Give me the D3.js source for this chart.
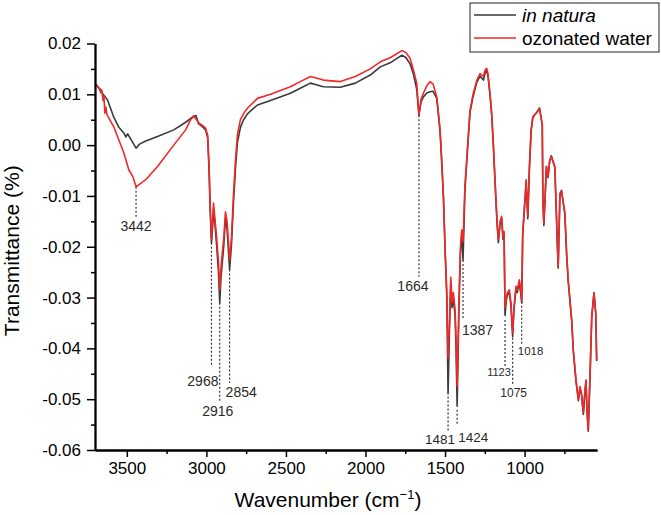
<!DOCTYPE html>
<html><head><meta charset="utf-8">
<script src="https://cdn.jsdelivr.net/npm/d3@7"></script>
<style>body{margin:0;background:#fff}svg{display:block}text{font-family:"Liberation Sans",Arial,sans-serif}</style>
</head><body><svg id="c" width="661" height="515"></svg>
<script>
// ---------- data ----------
const seriesNames = ["in natura", "ozonated water"];
const xTicks = [3500, 3000, 2500, 2000, 1500, 1000];
const xMinorTicks = [3250, 2750, 2250, 1750, 1250, 750];
const yTicks = [0.02, 0.01, 0.00, -0.01, -0.02, -0.03, -0.04, -0.05, -0.06];
const yMinorTicks = [0.015, 0.005, -0.005, -0.015, -0.025, -0.035, -0.045, -0.055];

const wnNatura = [3694,3676,3663,3650,3638,3620,3582,3550,3519,3505,3495,3475,3442,3420,3381,3307,3205,3130,3080,3065,3049,3030,3005,2992,2983,2976,2968,2961,2955,2945,2936,2924,2916,2908,2890,2880,2870,2854,2842,2830,2817,2805,2786,2766,2741,2679,2597,2472,2410,2346,2309,2265,2158,2064,1970,1907,1845,1771,1745,1720,1699,1678,1664,1651,1636,1613,1594,1575,1552,1531,1520,1510,1500,1489,1481,1472,1464,1456,1448,1437,1431,1424,1412,1403,1395,1387,1375,1362,1343,1324,1300,1280,1259,1248,1238,1230,1217,1207,1196,1186,1173,1165,1154,1144,1136,1129,1123,1115,1108,1096,1086,1075,1067,1054,1046,1033,1027,1018,1012,1001,990,980,969,959,948,927,906,889,885,879,871,863,853,842,832,810,799,789,778,768,747,736,726,704,694,677,662,652,642,631,620,614,608,600,589,578,564,553,547];
const tNatura = [0.0120,0.0112,0.0109,0.0100,0.0096,0.0088,0.0055,0.0035,0.0024,0.0016,0.0022,0.0012,-0.0006,0.0002,0.0008,0.0017,0.0030,0.0045,0.0057,0.0058,0.0042,0.0038,0.0030,0.0015,-0.0050,-0.0130,-0.0193,-0.0160,-0.0126,-0.0160,-0.0195,-0.0250,-0.0311,-0.0260,-0.0195,-0.0143,-0.0165,-0.0245,-0.0195,-0.0115,-0.0045,0.0005,0.0035,0.0050,0.0062,0.0079,0.0088,0.0102,0.0112,0.0122,0.0119,0.0115,0.0114,0.0122,0.0138,0.0154,0.0162,0.0177,0.0172,0.0160,0.0140,0.0110,0.0058,0.0085,0.0095,0.0103,0.0105,0.0106,0.0092,0.0025,-0.0040,-0.0105,-0.0205,-0.0300,-0.0488,-0.0360,-0.0270,-0.0320,-0.0300,-0.0335,-0.0400,-0.0514,-0.0310,-0.0210,-0.0175,-0.0226,-0.0090,-0.0025,0.0065,0.0095,0.0124,0.0136,0.0128,0.0142,0.0147,0.0136,0.0097,0.0060,-0.0003,-0.0072,-0.0155,-0.0192,-0.0155,-0.0145,-0.0185,-0.0175,-0.0335,-0.0305,-0.0295,-0.0290,-0.0315,-0.0377,-0.0325,-0.0282,-0.0290,-0.0270,-0.0285,-0.0310,-0.0178,-0.0125,-0.0072,-0.0145,-0.0040,0.0028,0.0055,0.0063,0.0073,0.0040,-0.0110,-0.0158,-0.0102,-0.0042,-0.0064,-0.0030,-0.0021,-0.0044,-0.0150,-0.0242,-0.0097,-0.0089,-0.0136,-0.0215,-0.0268,-0.0346,-0.0405,-0.0465,-0.0503,-0.0477,-0.0492,-0.0530,-0.0482,-0.0465,-0.0523,-0.0563,-0.0457,-0.0338,-0.0290,-0.0332,-0.0425];

const wnOzon = [3694,3676,3663,3657,3650,3644,3638,3632,3625,3582,3550,3519,3487,3462,3442,3381,3307,3205,3130,3099,3080,3061,3049,3030,3017,3005,2992,2983,2976,2968,2961,2955,2945,2936,2924,2916,2908,2890,2880,2870,2854,2842,2830,2817,2805,2786,2766,2741,2679,2597,2472,2410,2346,2309,2265,2158,2064,1970,1907,1845,1771,1745,1720,1699,1678,1664,1651,1636,1613,1594,1575,1552,1531,1520,1510,1500,1489,1481,1472,1464,1456,1448,1437,1431,1424,1412,1403,1395,1387,1375,1362,1343,1324,1300,1280,1259,1248,1238,1230,1217,1207,1196,1186,1173,1165,1154,1144,1136,1129,1123,1115,1108,1096,1086,1075,1067,1054,1046,1033,1027,1018,1012,1001,990,980,969,959,948,927,906,889,885,879,871,863,853,842,832,810,799,789,778,768,747,736,726,704,694,677,662,652,642,631,620,614,608,600,589,578,564,553,547];
const tOzon = [0.0120,0.0113,0.0103,0.0108,0.0088,0.0096,0.0063,0.0075,0.0060,0.0036,0.0010,-0.0015,-0.0049,-0.0062,-0.0082,-0.0068,-0.0042,0.0000,0.0030,0.0050,0.0057,0.0050,0.0044,0.0040,0.0037,0.0033,0.0020,-0.0040,-0.0120,-0.0185,-0.0150,-0.0114,-0.0150,-0.0180,-0.0230,-0.0285,-0.0240,-0.0180,-0.0131,-0.0150,-0.0226,-0.0180,-0.0100,-0.0030,0.0020,0.0050,0.0062,0.0073,0.0092,0.0100,0.0115,0.0125,0.0135,0.0132,0.0128,0.0125,0.0135,0.0150,0.0164,0.0172,0.0186,0.0182,0.0171,0.0148,0.0122,0.0060,0.0090,0.0102,0.0118,0.0125,0.0120,0.0095,0.0030,-0.0035,-0.0101,-0.0200,-0.0290,-0.0420,-0.0350,-0.0260,-0.0310,-0.0290,-0.0324,-0.0380,-0.0475,-0.0300,-0.0200,-0.0167,-0.0190,-0.0080,-0.0020,0.0069,0.0100,0.0128,0.0141,0.0135,0.0148,0.0151,0.0140,0.0100,0.0063,0.0000,-0.0068,-0.0150,-0.0186,-0.0150,-0.0140,-0.0180,-0.0170,-0.0320,-0.0300,-0.0290,-0.0285,-0.0310,-0.0370,-0.0320,-0.0278,-0.0285,-0.0265,-0.0280,-0.0305,-0.0173,-0.0121,-0.0068,-0.0140,-0.0036,0.0030,0.0056,0.0063,0.0071,0.0040,-0.0108,-0.0154,-0.0100,-0.0042,-0.0062,-0.0030,-0.0023,-0.0042,-0.0147,-0.0239,-0.0095,-0.0091,-0.0134,-0.0213,-0.0265,-0.0344,-0.0403,-0.0462,-0.0501,-0.0475,-0.0490,-0.0527,-0.0480,-0.0462,-0.0520,-0.0560,-0.0455,-0.0337,-0.0291,-0.0330,-0.0422];

// peak annotations: wavenumber, top of dotted line, bottom of dotted line (transmittance)
const peakLabels = ["3442","2968","2916","2854","1664","1481","1424","1387","1123","1075","1018"];
const peakWn     = [3442, 2968, 2916, 2854, 1664, 1481, 1424, 1387, 1123, 1075, 1018];
const peakTop    = [-0.0082,-0.0192,-0.0310,-0.0245,0.0059,-0.0487,-0.0521,-0.0226,-0.0344,-0.0379,-0.0308];
const peakBottom = [-0.0141,-0.0436,-0.0505,-0.0468,-0.0259,-0.0564,-0.0551,-0.0344,-0.0436,-0.0471,-0.0393];

// ---------- layout ----------
const M = {left: 95, right: 597, top: 43.5, bottom: 450};
const labelLayout = [
  {dx:0, y:231, a:"middle", fs:14},
  {dx:7, y:386, a:"end", fs:14},
  {dx:-2, y:416, a:"middle", fs:14},
  {dx:-4, y:397, a:"start", fs:14},
  {dx:-6, y:291, a:"middle", fs:14},
  {dx:-8, y:444, a:"middle", fs:13.5},
  {dx:1, y:442, a:"start", fs:13.5},
  {dx:-1, y:335, a:"start", fs:14},
  {dx:-6, y:376, a:"middle", fs:11},
  {dx:1, y:397, a:"middle", fs:12},
  {dx:-4, y:354.5, a:"start", fs:11.5}
];
const colors = ["#3a3a3a", "#f02828"];

const svg = d3.select("#c");
const x = d3.scaleLinear().domain([3700, 545]).range([M.left, M.right]);
const y = d3.scaleLinear().domain([-0.06, 0.02]).range([M.bottom, M.top]);

const line = d3.line().x(d => x(d[0])).y(d => y(d[1]));
const dN = wnNatura.map((w, i) => [w, tNatura[i]]);
const dO = wnOzon.map((w, i) => [w, tOzon[i]]);

const ann = svg.append("g");
peakWn.forEach((w, i) => {
  ann.append("line").attr("x1", x(w)).attr("x2", x(w))
    .attr("y1", y(peakTop[i])).attr("y2", y(peakBottom[i]))
    .attr("stroke", "#222").attr("stroke-width", 1.1).attr("stroke-dasharray", "2,2");
  const L = labelLayout[i];
  ann.append("text").attr("x", x(w) + L.dx).attr("y", L.y).attr("text-anchor", L.a)
    .attr("font-size", L.fs).attr("fill", "#2a2a2a").text(peakLabels[i]);
});

svg.append("path").datum(dN).attr("d", line).attr("fill", "none")
  .attr("stroke", colors[0]).attr("stroke-width", 1.6).attr("stroke-linejoin", "round");
svg.append("path").datum(dO).attr("d", line).attr("fill", "none")
  .attr("stroke", colors[1]).attr("stroke-width", 1.6).attr("stroke-linejoin", "round");

// axes
const fmt = d => d.toFixed(2);
svg.append("g").attr("transform", `translate(0,${M.bottom})`)
  .call(d3.axisBottom(x).tickValues(xTicks).tickSize(7).tickSizeOuter(0).tickPadding(5).tickFormat(d3.format("d")));
svg.append("g").attr("transform", `translate(0,${M.bottom})`)
  .call(d3.axisBottom(x).tickValues(xMinorTicks).tickSize(4).tickSizeOuter(0).tickFormat(""));
svg.append("g").attr("transform", `translate(${M.left},0)`)
  .call(d3.axisLeft(y).tickValues(yTicks).tickSize(8).tickSizeOuter(0).tickPadding(6).tickFormat(fmt));
svg.append("g").attr("transform", `translate(${M.left},0)`)
  .call(d3.axisLeft(y).tickValues(yMinorTicks).tickSize(4).tickSizeOuter(0).tickFormat(""));
svg.selectAll(".domain").attr("stroke", "#000").attr("stroke-width", 1.8);
svg.selectAll(".tick line").attr("stroke", "#000").attr("stroke-width", 1.5);
svg.selectAll(".tick text").attr("font-size", 17).attr("fill", "#000")
  .attr("font-family", '"Liberation Sans",Arial,sans-serif');

// axis titles
svg.append("text").attr("x", 328).attr("y", 507).attr("text-anchor", "middle")
  .attr("font-size", 21).attr("fill", "#000")
  .html('Wavenumber (cm<tspan dy="-8" font-size="13">−1</tspan><tspan dy="8">)</tspan>');
svg.append("text").attr("transform", `translate(19,${(M.top + M.bottom) / 2 + 4}) rotate(-90)`)
  .attr("text-anchor", "middle").attr("font-size", 21).attr("fill", "#000").text("Transmittance (%)");

// legend
const lg = svg.append("g");
lg.append("rect").attr("x", 470).attr("y", 3).attr("width", 189).attr("height", 49)
  .attr("fill", "#fff").attr("stroke", "#222").attr("stroke-width", 1);
seriesNames.forEach((n, i) => {
  const ly = 15 + i * 23;
  lg.append("line").attr("x1", 474).attr("x2", 516).attr("y1", ly).attr("y2", ly)
    .attr("stroke", colors[i]).attr("stroke-width", 1.6);
  lg.append("text").attr("x", 522).attr("y", ly + 6.5).attr("font-size", 19)
    .attr("font-style", i === 0 ? "italic" : "normal").attr("fill", "#000").text(n);
});
</script></body></html>
